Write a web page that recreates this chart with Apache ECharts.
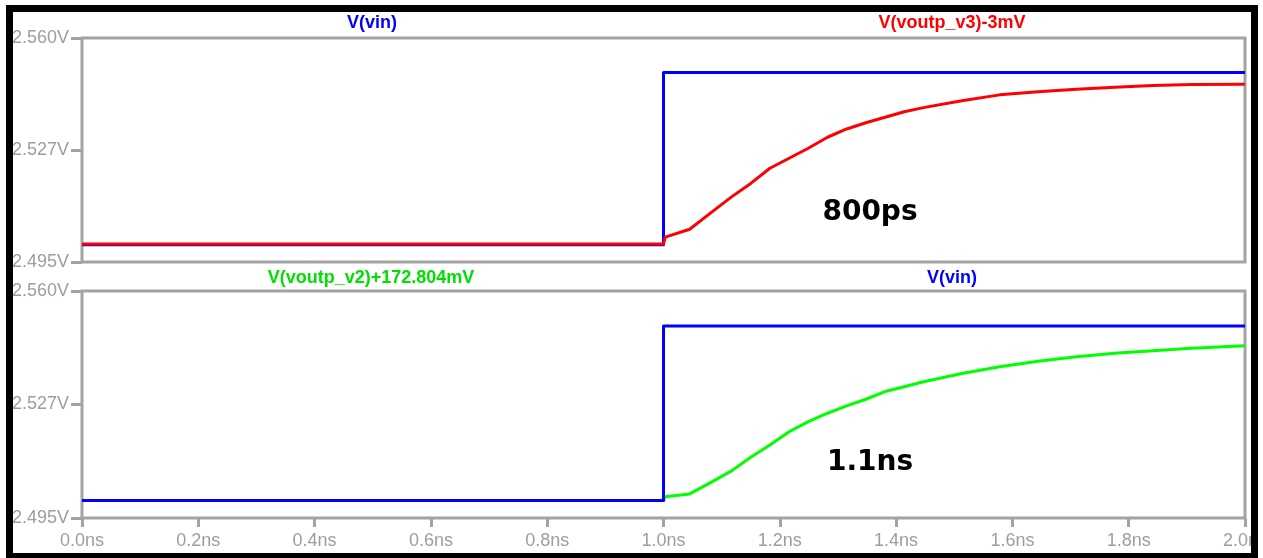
<!DOCTYPE html>
<html>
<head>
<meta charset="utf-8">
<title>Transient step response</title>
<script src="https://cdn.jsdelivr.net/npm/echarts@6/dist/echarts.min.js"></script>
<style>
  html, body { margin: 0; padding: 0; background: #fff; }
  #chart { width: 1263px; height: 558px; }
</style>
</head>
<body>
<div id="chart"></div>
<script>
// Input step V(vin): 2.500 V -> 2.550 V at 1.0 ns
const vinTime = [0, 1.0, 1.0, 2.0];
const vinValue = [2.5, 2.5, 2.55, 2.55];

// Shared time samples for the two output curves (ns)
const outTime = [0, 1.0, 1.003, 1.045, 1.084, 1.117, 1.15, 1.183, 1.216, 1.249, 1.282,
  1.315, 1.348, 1.381, 1.414, 1.447, 1.513, 1.578, 1.644, 1.71, 1.776, 1.842, 1.908, 2.0];

// V(voutp_v3)-3mV  (upper pane)
const voutV3 = [2.5002, 2.5002, 2.5022, 2.5045, 2.5096, 2.5139, 2.5178, 2.5222, 2.5251, 2.528, 2.5312,
  2.5336, 2.5354, 2.537, 2.5386, 2.5398, 2.5418, 2.5435, 2.5444, 2.5451, 2.5457, 2.5462, 2.5465, 2.5466];

// V(voutp_v2)+172.804mV  (lower pane)
const voutV2 = [2.5, 2.5, 2.5011, 2.5019, 2.5054, 2.5085, 2.5124, 2.5159, 2.5197, 2.5226, 2.525,
  2.5271, 2.529, 2.5312, 2.5326, 2.534, 2.5364, 2.5383, 2.5399, 2.5412, 2.5422, 2.5429, 2.5436, 2.5443];

const yTickValues = [2.495, 2.5275, 2.56];
const yTickLabels = ['2.495V', '2.527V', '2.560V'];
const xTickLabels = ['0.0ns', '0.2ns', '0.4ns', '0.6ns', '0.8ns', '1.0ns', '1.2ns', '1.4ns', '1.6ns', '1.8ns', '2.0ns'];

const paneTitles = {
  top: [{ text: 'V(vin)', color: '#0000ff', x: 372 }, { text: 'V(voutp_v3)-3mV', color: '#ff0000', x: 952 }],
  bottom: [{ text: 'V(voutp_v2)+172.804mV', color: '#00e000', x: 371 }, { text: 'V(vin)', color: '#0000ff', x: 952 }]
};
const notes = [{ text: '800ps', x: 870, y: 213 }, { text: '1.1ns', x: 870, y: 463 }];

const pair = (xs, ys) => xs.map((x, i) => [x, ys[i]]);

const GRAY = '#a3a3a3';
const LABEL = '#9b9da6';
const labelFont = { fontFamily: 'Liberation Sans, Arial, sans-serif', fontSize: 18, color: LABEL };

function yAxis(gridIndex) {
  return {
    type: 'value', gridIndex, min: 2.495, max: 2.56,
    splitLine: { show: false },
    axisLine: { show: false },
    axisTick: { show: true, length: 11, customValues: yTickValues, lineStyle: { color: GRAY, width: 3 } },
    axisLabel: {
      ...labelFont, margin: 13, customValues: yTickValues,
      formatter: v => yTickLabels[yTickValues.findIndex(t => Math.abs(t - v) < 1e-6)]
    }
  };
}

const chart = echarts.init(document.getElementById('chart'), null, { renderer: 'canvas' });

const titleText = (item, y) => ({
  type: 'text', x: item.x, y, z: 10,
  style: {
    text: item.text, fill: item.color, align: 'center', verticalAlign: 'middle',
    font: 'bold 18px "Liberation Sans", Arial, sans-serif'
  }
});

const trace = (name, gi, data, color, z) => ({
  name, type: 'line', xAxisIndex: gi, yAxisIndex: gi, data,
  symbol: 'none', lineStyle: { color, width: 3, join: 'round' }, z
});

chart.setOption({
  animation: false,
  backgroundColor: '#ffffff',
  grid: [
    { left: 82, right: 18, top: 38, height: 224, containLabel: false, outerBoundsMode: 'none',
      show: true, borderColor: GRAY, borderWidth: 3, backgroundColor: 'transparent' },
    { left: 82, right: 18, top: 291, height: 227, containLabel: false, outerBoundsMode: 'none',
      show: true, borderColor: GRAY, borderWidth: 3, backgroundColor: 'transparent' }
  ],
  xAxis: [
    { type: 'value', gridIndex: 0, min: 0, max: 2, interval: 0.2,
      axisLine: { show: false }, axisTick: { show: false }, axisLabel: { show: false }, splitLine: { show: false } },
    { type: 'value', gridIndex: 1, min: 0, max: 2, interval: 0.2,
      axisLine: { show: false }, splitLine: { show: false },
      axisTick: { show: true, length: 9, lineStyle: { color: GRAY, width: 3 } },
      axisLabel: { ...labelFont, margin: 14, showMaxLabel: true, showMinLabel: true, hideOverlap: false,
        formatter: v => xTickLabels[Math.round(v / 0.2)] } }
  ],
  yAxis: [yAxis(0), yAxis(1)],
  series: [
    trace('V(vin)', 0, pair(vinTime, vinValue), '#0000ff', 2),
    trace('V(voutp_v3)-3mV', 0, pair(outTime, voutV3), '#ff0000', 3),
    trace('V(voutp_v2)+172.804mV', 1, pair(outTime, voutV2), '#00ff00', 2),
    trace('V(vin) ', 1, pair(vinTime, vinValue), '#0000ff', 3)
  ],
  graphic: [
    ...paneTitles.top.map(t => titleText(t, 23)),
    ...paneTitles.bottom.map(t => titleText(t, 278)),
    ...notes.map(n => ({
      type: 'text', x: n.x, y: n.y, z: 10,
      style: { text: n.text, fill: '#000000', align: 'center', verticalAlign: 'middle',
        font: 'bold 28px "DejaVu Sans", sans-serif' }
    })),
    // white margin and black frame around the plot
    { type: 'rect', z: 100, shape: { x: 2.5, y: 1.5, width: 1258, height: 560 },
      style: { fill: 'none', stroke: '#ffffff', lineWidth: 7 } },
    { type: 'rect', z: 101, shape: { x: 9.5, y: 8.5, width: 1245, height: 548 },
      style: { fill: 'none', stroke: '#000000', lineWidth: 7 } }
  ]
});
</script>
</body>
</html>
